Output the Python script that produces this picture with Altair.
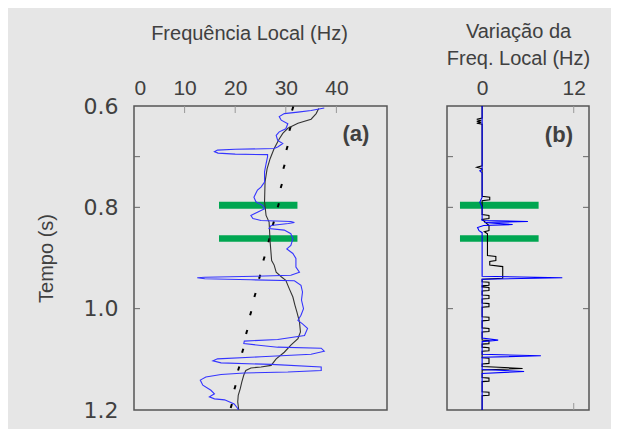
import altair as alt
import pandas as pd

# ---------------- data ----------------
# Panel (a): local frequency (Hz) vs time (s)
a_blue_x = [37.6, 35.0, 32.4, 29.7, 28.7, 29.1, 30.4, 30.0, 28.7, 28.1, 28.4, 29.4, 28.4, 27.7,
            20.0, 16.5, 15.9, 16.6, 20.0, 26.4, 26.4, 26.1, 25.8, 25.8, 25.1, 24.4, 23.7, 24.1,
            25.4, 25.8, 24.5, 23.1, 23.5, 25.1, 31.0, 31.7, 30.5, 27.1, 26.7, 29.7, 31.0, 31.4,
            31.0, 30.2, 31.4, 32.0, 32.0, 32.7, 31.0, 24.0, 14.0, 12.5, 14.0, 23.1, 31.7, 33.0,
            33.3, 33.1, 33.5, 33.0, 32.4, 33.3, 34.3, 33.7, 28.4, 21.8, 21.7, 28.4, 37.0, 37.6,
            35.0, 25.1, 16.5, 15.6, 17.2, 27.1, 37.0, 37.0, 30.4, 21.8, 17.2, 14.2, 13.1, 13.6,
            15.2, 15.9, 14.9, 15.9, 17.9, 19.8, 20.5, 20.6]
a_blue_y = [0.604, 0.609, 0.612, 0.615, 0.621, 0.628, 0.635, 0.645, 0.651, 0.658, 0.668, 0.674, 0.681, 0.684,
            0.6855, 0.687, 0.690, 0.693, 0.695, 0.696, 0.700, 0.714, 0.730, 0.750, 0.760, 0.766, 0.780, 0.789,
            0.796, 0.803, 0.809, 0.816, 0.822, 0.826, 0.828, 0.830, 0.832, 0.836, 0.842, 0.845, 0.852, 0.862,
            0.875, 0.882, 0.891, 0.901, 0.918, 0.928, 0.934, 0.936, 0.938, 0.939, 0.941, 0.943, 0.945, 0.954,
            0.967, 0.983, 1.000, 1.013, 1.023, 1.030, 1.039, 1.053, 1.061, 1.064, 1.069, 1.076, 1.078, 1.084,
            1.090, 1.095, 1.099, 1.103, 1.107, 1.110, 1.115, 1.122, 1.125, 1.127, 1.130, 1.135, 1.141, 1.151,
            1.161, 1.168, 1.174, 1.178, 1.180, 1.188, 1.197, 1.200]

a_black_x = [36.5, 36.0, 35.0, 32.4, 30.4, 29.4, 28.7, 27.7, 26.9, 26.3, 25.9, 25.8, 26.1, 26.7,
             26.9, 27.2, 27.7, 28.1, 29.1, 30.0, 30.7, 31.4, 31.8, 32.2, 32.7, 32.9, 32.4, 31.0,
             29.7, 28.1, 27.1, 25.1, 23.1, 22.1, 21.7, 21.3, 21.0, 20.6, 20.5, 20.7]
a_black_y = [0.605, 0.615, 0.626, 0.634, 0.644, 0.654, 0.665, 0.684, 0.704, 0.724, 0.750, 0.789, 0.816, 0.829,
             0.868, 0.905, 0.914, 0.928, 0.937, 0.944, 0.961, 0.977, 0.993, 1.007, 1.026, 1.046, 1.059, 1.072,
             1.086, 1.099, 1.112, 1.115, 1.117, 1.122, 1.131, 1.145, 1.158, 1.171, 1.184, 1.200]

a_dots_x = [31.36, 30.83, 30.24, 29.64, 29.11, 28.52, 27.53, 26.68, 25.69, 24.84, 23.91, 23.06,
            22.27, 21.48, 20.69, 19.96, 19.23]
a_dots_y = [0.605, 0.645, 0.683, 0.720, 0.758, 0.796, 0.832, 0.865, 0.901, 0.937, 0.973, 1.009,
            1.046, 1.083, 1.118, 1.155, 1.192]

# Panel (b): variation of local frequency (Hz)
b_blue_x = [0, 0, -0.3, 0, 0, -0.3, 0, 0, 6.0, 0.3, 4.0, 0.2, -0.6, -0.4, 0, 0, 10.5, 0,
            0, 2.1, 0, 0, 7.7, 0, 0, 5.5, 0, 0]
b_blue_y = [0.600, 0.725, 0.728, 0.732, 0.780, 0.790, 0.800, 0.826, 0.828, 0.830, 0.834, 0.836, 0.840, 0.846,
            0.850, 0.936, 0.939, 0.942, 1.058, 1.062, 1.065, 1.090, 1.093, 1.096, 1.120, 1.124, 1.128, 1.200]

b_black_x = [0, 0, -0.7, -0.1, -0.7, -0.1, -0.7, 0, 0, -0.7, 0, 0, 1.0, 1.0, 0, 0, 0.9, 0.9, 0,
             0.9, 0.9, 0.3, 0.7, 0.7, 1.8, 1.8, 1.0, 1.0, 2.7, 2.7, 0,
             0, 0.9, 0.9, 0, 0, 0.9, 0.9, 0, 0, 0.9, 0.9, 0, 0, 0.9, 0.9, 0,
             0, 0.9, 0.9, 0, 0, 0.9, 0.9, 0, 0, 0.9, 0.9, 0, 0, 0.9, 0.9, 0,
             0, 0.9, 0.9, 0, 0, 5.3, 0, 0, 0.9, 0.9, 0, 0, 0.9, 0.9, 0, 0]
b_black_y = [0.600, 0.624, 0.626, 0.628, 0.630, 0.632, 0.634, 0.636, 0.718, 0.721, 0.724, 0.778, 0.780, 0.785,
             0.787, 0.814, 0.816, 0.822, 0.824, 0.836, 0.846, 0.848, 0.852, 0.895, 0.897, 0.905, 0.907, 0.914,
             0.917, 0.940, 0.942,
             0.947, 0.948, 0.954, 0.955, 0.957, 0.958, 0.964, 0.965, 0.973, 0.974, 0.980, 0.981,
             0.989, 0.990, 0.996, 0.997, 1.016, 1.017, 1.023, 1.024, 1.038, 1.039, 1.045, 1.046,
             1.062, 1.063, 1.069, 1.070, 1.076, 1.077, 1.083, 1.084, 1.097, 1.098, 1.108, 1.109,
             1.114, 1.118, 1.121, 1.136, 1.137, 1.143, 1.144, 1.164, 1.165, 1.171, 1.172, 1.200]

# green highlight bands (time window, frequency extent)
band_y1 = [0.789, 0.855]
band_y2 = [0.803, 0.868]
band_a_x = [16.8, 32.3]
band_b_x = [-2.9, 7.4]

# axes
a_x_labels = [0, 10, 20, 30, 40]
b_x_labels = [0, 12]
y_labels = [0.6, 0.8, 1.0, 1.2]
y_inner_ticks = [0.7, 0.8, 1.0]
a_top_ticks = [10, 20, 30, 40]
b_tb_ticks = [12]

TXT = "#404040"
FONT = "Liberation Sans"


def series(xs, ys):
    return pd.DataFrame({"x": xs, "y": ys, "i": list(range(len(xs)))})


ya_scale = alt.Scale(domain=[0.6, 1.2], reverse=True, nice=False, zero=False)
xa_scale = alt.Scale(domain=[0, 50], nice=False, zero=False)
xb_scale = alt.Scale(domain=[-4.6, 14], nice=False, zero=False)

y_axis = alt.Axis(values=y_labels, format=".1f", ticks=False, domain=False, grid=False,
                  labelFontSize=22, labelFont="DejaVu Sans", labelColor=TXT, labelPadding=16,
                  title="Tempo (s)", titleFontSize=20, titleFontWeight="normal", titleColor=TXT,
                  titleFont=FONT, titleAngle=270, titleX=-88, titleY=152, titleAlign="center",
                  titleBaseline="middle")
xa_axis = alt.Axis(orient="top", values=a_x_labels, ticks=False, domain=False, grid=False,
                   labelFontSize=21, labelColor=TXT, labelPadding=8, labelFont=FONT,
                   title="Frequência Local (Hz)", titleFontSize=20, titleFontWeight="normal",
                   titleColor=TXT, titleFont=FONT, titlePadding=34, titleX=115, titleAlign="center")
xb_axis = alt.Axis(orient="top", values=b_x_labels, ticks=False, domain=False, grid=False,
                   labelFontSize=21, labelColor=TXT, labelPadding=8, labelFont=FONT,
                   title=["Variação da", "Freq. Local (Hz)"], titleFontSize=20, titleFontWeight="normal",
                   titleColor=TXT, titleFont=FONT, titlePadding=9, titleLineHeight=27)
yb_axis = None


def panel(xs_scale, x_axis, y_ax, blue, black, band_x, extra, label, label_pos, left_ticks, right_ticks, top_ticks, bottom_ticks):
    X = lambda f="x": alt.X(f + ":Q", scale=xs_scale, axis=x_axis)
    Y = lambda f="y": alt.Y(f + ":Q", scale=ya_scale, axis=y_ax)
    layers = []
    bands = pd.DataFrame({"y1": band_y1, "y2": band_y2, "x1": [band_x[0]] * 2, "x2": [band_x[1]] * 2})
    layers.append(alt.Chart(bands).mark_rect(color="#00a651").encode(
        x=X("x1"), x2="x2:Q", y=Y("y1"), y2="y2:Q"))
    layers += extra(X, Y)
    layers.append(alt.Chart(black[0]).mark_line(color=black[1], strokeWidth=1.1, clip=True).encode(
        x=X(), y=Y(), order="i:Q"))
    layers.append(alt.Chart(blue[0]).mark_line(color=blue[1], strokeWidth=1.1, clip=True).encode(
        x=X(), y=Y(), order="i:Q"))
    tdf = pd.DataFrame({"t": y_inner_ticks})
    if left_ticks:
        layers.append(alt.Chart(tdf).mark_rule(color="#666", strokeWidth=1).encode(
            y=Y("t"), x=alt.value(0), x2=alt.value(6)))
    if right_ticks:
        layers.append(alt.Chart(tdf).mark_rule(color="#666", strokeWidth=1).encode(
            y=Y("t"), x=alt.value(136), x2=alt.value(142)))
    if top_ticks:
        layers.append(alt.Chart(pd.DataFrame({"t": top_ticks})).mark_rule(color="#999", strokeWidth=1).encode(
            x=X("t"), y=alt.value(0), y2=alt.value(7)))
    if bottom_ticks:
        layers.append(alt.Chart(pd.DataFrame({"t": bottom_ticks})).mark_rule(color="#999", strokeWidth=1).encode(
            x=X("t"), y=alt.value(297), y2=alt.value(304)))
    ldf = pd.DataFrame({"x": [label_pos[0]], "y": [label_pos[1]], "t": [label]})
    layers.append(alt.Chart(ldf).mark_text(align="right", baseline="middle", fontSize=22, fontWeight="bold",
                                           font=FONT, color=TXT).encode(x=X(), y=Y(), text="t:N"))
    return alt.layer(*layers)


def a_extra(X, Y):
    d = pd.DataFrame({"x": a_dots_x, "y": a_dots_y})
    return [alt.Chart(d).mark_point(shape="M-0.3,1L0.3,-1", size=16, strokeWidth=2, color="black",
                                    opacity=1).encode(x=X(), y=Y())]


def b_extra(X, Y):
    return []


pa = panel(xa_scale, xa_axis, y_axis, (series(a_blue_x, a_blue_y), "#3535ff"),
           (series(a_black_x, a_black_y), "#333333"), band_a_x, a_extra, "(a)", (46.5, 0.655),
           True, False, a_top_ticks, []).properties(width=253, height=304)
pb = panel(xb_scale, xb_axis, yb_axis, (series(b_blue_x, b_blue_y), "#0000ff"),
           (series(b_black_x, b_black_y), "#000000"), band_b_x, b_extra, "(b)", (11.9, 0.657),
           True, True, b_tb_ticks, b_tb_ticks).properties(width=142, height=304)

chart = alt.hconcat(pa, pb, spacing=60, bounds="flush").properties(
    padding={"left": 27, "top": 12, "right": 20, "bottom": 12},
    background="#e6e6e6",
).configure(font=FONT).configure_view(stroke="#555555", strokeWidth=1.5)

chart.save("out.html", embed_options={"renderer": "svg", "actions": False})
